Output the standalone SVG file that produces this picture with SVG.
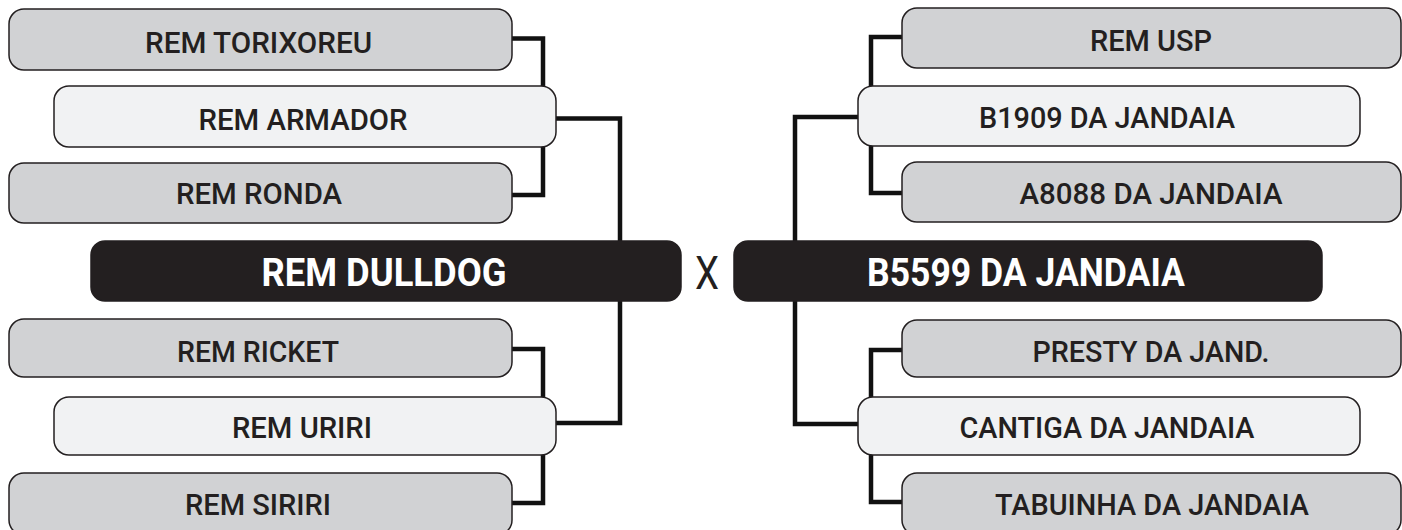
<svg xmlns="http://www.w3.org/2000/svg" width="1402" height="530" viewBox="0 0 1402 530">
<style>
.box{stroke:#231f20;stroke-width:1.5}
.gray{fill:#d1d2d4}
.light{fill:#f1f2f3}
.dark{fill:#231f20}
.lbl{font-family:Roboto,"Liberation Sans",sans-serif;font-weight:500;font-size:30px;fill:#231f20;text-anchor:middle}
.big{font-family:Roboto,"Liberation Sans",sans-serif;font-weight:700;font-size:38px;fill:#ffffff;text-anchor:middle}
.vs{font-family:Roboto,"Liberation Sans",sans-serif;font-weight:400;font-size:47px;fill:#231f20;text-anchor:middle}
.con{fill:none;stroke:#111;stroke-width:4.5;stroke-linejoin:miter}
</style>
<rect width="1402" height="530" fill="#ffffff"/>
<g id="connectors">
<path class="con" d="M512,38.5 H543 V195 H512"/>
<path class="con" d="M556,118.5 H620 V423 H556"/>
<path class="con" d="M512,349 H543 V503 H512"/>
<path class="con" d="M902,37 H871 V193 H902"/>
<path class="con" d="M858,117 H795 V424 H858"/>
<path class="con" d="M902,350 H871 V502 H902"/>
</g>
<g id="n-torixoreu"><rect class="box gray" x="9" y="9" width="503" height="61" rx="15"/><text class="lbl" x="258.6" y="53" textLength="227" lengthAdjust="spacingAndGlyphs">REM TORIXOREU</text></g>
<g id="n-armador"><rect class="box light" x="54" y="86" width="502" height="61" rx="15"/><text class="lbl" x="303" y="130" textLength="209" lengthAdjust="spacingAndGlyphs">REM ARMADOR</text></g>
<g id="n-ronda"><rect class="box gray" x="9" y="163" width="503" height="60" rx="15"/><text class="lbl" x="259" y="204" textLength="166" lengthAdjust="spacingAndGlyphs">REM RONDA</text></g>
<g id="n-dulldog"><rect class="box dark" x="91" y="241" width="590" height="60" rx="14"/><text class="big" x="384" y="286" textLength="245" lengthAdjust="spacingAndGlyphs">REM DULLDOG</text></g>
<g id="n-ricket"><rect class="box gray" x="9" y="319" width="503" height="58" rx="15"/><text class="lbl" x="258" y="362" textLength="162" lengthAdjust="spacingAndGlyphs">REM RICKET</text></g>
<g id="n-uriri"><rect class="box light" x="54" y="397" width="502" height="58" rx="15"/><text class="lbl" x="302" y="438" textLength="140" lengthAdjust="spacingAndGlyphs">REM URIRI</text></g>
<g id="n-siriri"><rect class="box gray" x="9" y="473" width="503" height="62" rx="15"/><text class="lbl" x="258" y="515" textLength="146" lengthAdjust="spacingAndGlyphs">REM SIRIRI</text></g>
<g id="n-x"><text class="vs" x="707" y="289" textLength="24" lengthAdjust="spacingAndGlyphs">X</text></g>
<g id="n-usp"><rect class="box gray" x="902" y="8" width="499" height="60" rx="15"/><text class="lbl" x="1151" y="51" textLength="122" lengthAdjust="spacingAndGlyphs">REM USP</text></g>
<g id="n-b1909"><rect class="box light" x="858" y="86" width="502" height="60" rx="15"/><text class="lbl" x="1107" y="128" textLength="256" lengthAdjust="spacingAndGlyphs">B1909 DA JANDAIA</text></g>
<g id="n-a8088"><rect class="box gray" x="902" y="162" width="499" height="60" rx="15"/><text class="lbl" x="1151" y="204" textLength="263" lengthAdjust="spacingAndGlyphs">A8088 DA JANDAIA</text></g>
<g id="n-b5599"><rect class="box dark" x="734" y="241" width="588" height="60" rx="14"/><text class="big" x="1026" y="286" textLength="318" lengthAdjust="spacingAndGlyphs">B5599 DA JANDAIA</text></g>
<g id="n-presty"><rect class="box gray" x="902" y="320" width="499" height="57" rx="15"/><text class="lbl" x="1151" y="362" textLength="237" lengthAdjust="spacingAndGlyphs">PRESTY DA JAND.</text></g>
<g id="n-cantiga"><rect class="box light" x="858" y="397" width="502" height="58" rx="15"/><text class="lbl" x="1107" y="438" textLength="295" lengthAdjust="spacingAndGlyphs">CANTIGA DA JANDAIA</text></g>
<g id="n-tabuinha"><rect class="box gray" x="902" y="473" width="499" height="62" rx="15"/><text class="lbl" x="1152" y="515" textLength="314" lengthAdjust="spacingAndGlyphs">TABUINHA DA JANDAIA</text></g>
</svg>
